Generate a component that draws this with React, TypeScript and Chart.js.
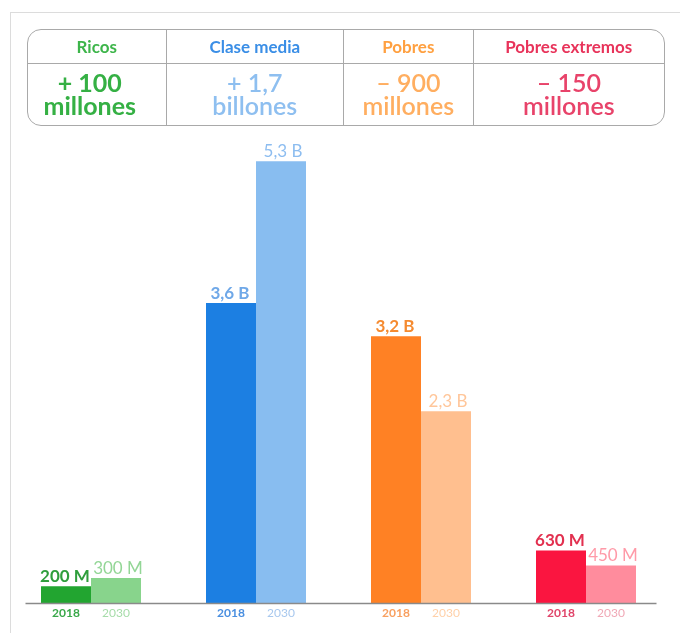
import React, { useEffect, useRef } from "react";
import { Chart, registerables } from "chart.js";

Chart.register(...registerables);

const categories = ["Ricos", "Clase media", "Pobres", "Pobres extremos"];
const years = ["2018", "2030"];
const values2018 = [0.2, 3.6, 3.2, 0.63];
const values2030 = [0.3, 5.3, 2.3, 0.45];
const labels2018 = ["200 M", "3,6 B", "3,2 B", "630 M"];
const labels2030 = ["300 M", "5,3 B", "2,3 B", "450 M"];
const changeTop = ["+ 100", "+ 1,7", "– 900", "– 150"];
const changeBottom = ["millones", "billones", "millones", "millones"];

const bar2018 = ["#22a530", "#1c7fe2", "#ff8124", "#fa1540"];
const bar2030 = ["#88d48c", "#88bdf0", "#ffbf8f", "#ff8c9d"];
const label2018Color = ["#2f9e3c", "#6fa8e8", "#f58a2f", "#e2304f"];
const label2030Color = ["#93d696", "#8dbdf0", "#ffc69a", "#ff9aa8"];
const year2018Color = ["#3aa84a", "#4a8fe0", "#f8a060", "#e0456a"];
const year2030Color = ["#a6dca9", "#a8c8ee", "#ffd0a8", "#f0a8b6"];
const headColor = ["#3db54a", "#3a8ee6", "#ffa040", "#e8335a"];
const changeColor = ["#35b044", "#8ebff0", "#ffae60", "#e8436a"];
const colWidths = [138, 178, 130, 192];

const FONT = "Lato, 'Noto Sans', sans-serif";

const labelsPlugin = {
  id: "barLabels",
  afterDatasetsDraw(chart: any) {
    const ctx = chart.ctx;
    const area = chart.chartArea;
    const baseY = chart.scales.y.getPixelForValue(0);
    ctx.save();
    ctx.strokeStyle = "#8a8a8a";
    ctx.lineWidth = 1.5;
    ctx.beginPath();
    ctx.moveTo(area.left + 17, baseY + 0.5);
    ctx.lineTo(area.right - 12, baseY + 0.5);
    ctx.stroke();
    chart.data.datasets.forEach((ds: any, di: number) => {
      const meta = chart.getDatasetMeta(di);
      meta.data.forEach((el: any, i: number) => {
        const is2018 = di === 0;
        ctx.textAlign = "center";
        ctx.textBaseline = "bottom";
        ctx.font = `${is2018 ? 700 : 400} 17px ${FONT}`;
        ctx.fillStyle = is2018 ? label2018Color[i] : label2030Color[i];
        const txt = is2018 ? labels2018[i] : labels2030[i];
        ctx.fillText(txt, el.x + (is2018 ? -1 : 2), el.y - 1);
        ctx.font = `${is2018 ? 700 : 400} 12px ${FONT}`;
        ctx.fillStyle = is2018 ? year2018Color[i] : year2030Color[i];
        ctx.textBaseline = "middle";
        ctx.fillText(years[di], el.x, baseY + 10);
      });
    });
    ctx.restore();
  },
};

export default function App() {
  const ref = useRef<HTMLCanvasElement | null>(null);
  useEffect(() => {
    if (!ref.current) return;
    const chart = new Chart(ref.current, {
      type: "bar",
      data: {
        labels: categories,
        datasets: [
          {
            label: years[0],
            data: values2018,
            backgroundColor: bar2018,
            borderWidth: 0,
            categoryPercentage: 0.606,
            barPercentage: 1,
          },
          {
            label: years[1],
            data: values2030,
            backgroundColor: bar2030,
            borderWidth: 0,
            categoryPercentage: 0.606,
            barPercentage: 1,
          },
        ],
      },
      options: {
        animation: false,
        responsive: false,
        maintainAspectRatio: false,
        layout: { padding: { top: 103, bottom: 30, left: 8.5, right: 11.5 } },
        plugins: {
          legend: { display: false },
          tooltip: { enabled: false },
        },
        scales: {
          x: { display: false, grid: { display: false } },
          y: { display: false, min: 0, max: 6 },
        },
      },
      plugins: [labelsPlugin],
    });
    return () => chart.destroy();
  }, []);

  return (
    <div
      style={{
        position: "fixed",
        left: 0,
        top: 0,
        width: 680,
        height: 633,
        overflow: "hidden",
        background: "#fff",
        fontFamily: FONT,
      }}
    >
      <div
        style={{
          position: "absolute",
          left: 10,
          top: 12,
          width: 700,
          height: 700,
          border: "1px solid #dcdcdc",
        }}
      />
      <canvas
        ref={ref}
        width={680}
        height={633}
        style={{ position: "absolute", left: 0, top: 0, width: 680, height: 633 }}
      />
      <div
        style={{
          position: "absolute",
          left: 27,
          top: 29,
          width: 638,
          height: 97,
          boxSizing: "border-box",
          border: "1.5px solid #a9a9a9",
          borderRadius: 14,
          display: "flex",
          overflow: "hidden",
        }}
      >
        {categories.map((c, i) => (
          <div
            key={c}
            style={{
              width: colWidths[i],
              boxSizing: "border-box",
              borderLeft: i > 0 ? "1.5px solid #a9a9a9" : "none",
              display: "flex",
              flexDirection: "column",
            }}
          >
            <div
              style={{
                height: 33,
                borderBottom: "1.5px solid #a9a9a9",
                display: "flex",
                alignItems: "center",
                justifyContent: "center",
                color: headColor[i],
                fontWeight: 700,
                fontSize: 17,
              }}
            >
              {c}
            </div>
            <div
              style={{
                flex: 1,
                display: "flex",
                flexDirection: "column",
                alignItems: "center",
                justifyContent: "center",
                color: changeColor[i],
                fontWeight: i === 0 ? 700 : 600,
                fontSize: 25,
                lineHeight: "23px",
                paddingRight: i === 0 ? 14 : 0,
                paddingBottom: 2,
              }}
            >
              <div>{changeTop[i]}</div>
              <div>{changeBottom[i]}</div>
            </div>
          </div>
        ))}
      </div>
    </div>
  );
}
